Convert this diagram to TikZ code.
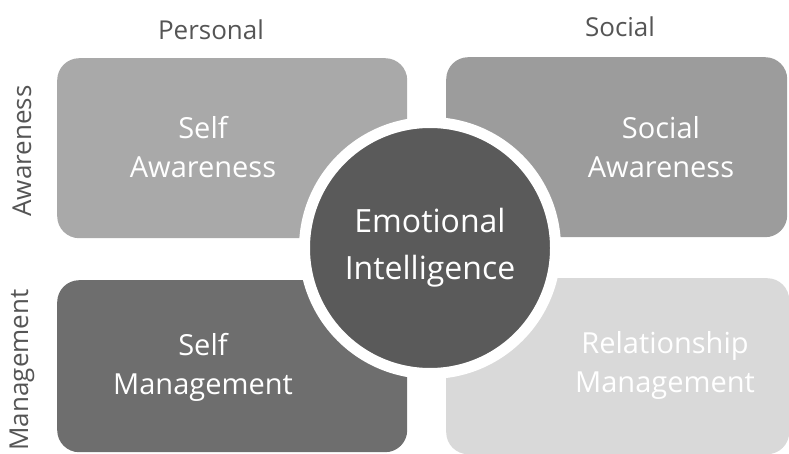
\documentclass[tikz,border=0pt]{standalone}
\usepackage{fontspec}
\setmainfont{Open Sans}
\usepackage{xcolor}

\definecolor{selfawfill}{HTML}{A9A9A9}
\definecolor{socawfill}{HTML}{9C9C9C}
\definecolor{selfmgfill}{HTML}{6E6E6E}
\definecolor{relmgfill}{HTML}{D9D9D9}
\definecolor{corefill}{HTML}{5A5A5A}
\definecolor{headgray}{HTML}{555555}

\tikzset{
  quad/.style={rectangle, rounded corners=22pt, draw=none, anchor=north west, inner sep=0pt},
  quadtext/.style={text=white, align=center, font=\fontsize{29}{39}\selectfont},
  headtext/.style={text=headgray, font=\fontsize{26}{30}\selectfont},
}

\begin{document}
\begin{tikzpicture}[x=1pt,y=-1pt]
\useasboundingbox (0,0) rectangle (789,454);

% four quadrants
\node[quad, fill=selfawfill, minimum width=350pt, minimum height=180pt] (selfaw) at (57,58) {};
\node[quad, fill=socawfill, minimum width=341pt, minimum height=180pt] (socaw) at (446,57) {};
\node[quad, fill=selfmgfill, minimum width=350pt, minimum height=172pt] (selfmg) at (57,280) {};
\node[quad, fill=relmgfill, minimum width=343pt, minimum height=176pt] (relmg) at (446,278) {};

% centre circle with white ring
\node[circle, fill=corefill, draw=white, line width=11pt, minimum size=251pt, inner sep=0pt,
      text=white, align=center, font=\fontsize{32}{47}\selectfont] (core) at (430,248) {Emotional\\Intelligence};

% quadrant labels
\node[quadtext] (selfawtxt) at (203,147) {Self\\Awareness};
\node[quadtext] (socawtxt) at (661,147) {Social\\Awareness};
\node[quadtext] (selfmgtxt) at (203,367) {Self\\Management};
\node[quadtext] (relmgtxt) at (665,365) {Relationship\\Management};

% axis headings
\node[headtext] (personal) at (211,30) {Personal};
\node[headtext] (social) at (620,27) {Social};
\node[headtext, rotate=90] (awareness) at (22,151) {Awareness};
\node[headtext, rotate=90] (management) at (22,370) {Management};

\end{tikzpicture}
\end{document}
